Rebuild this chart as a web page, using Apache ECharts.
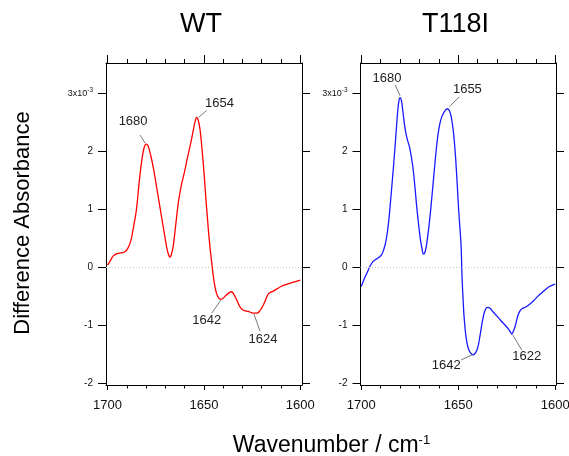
<!DOCTYPE html>
<html>
<head>
<meta charset="utf-8">
<script src="https://cdn.jsdelivr.net/npm/echarts@6/dist/echarts.min.js"></script>
<style>html,body{margin:0;padding:0;background:#fff;}#c{width:569px;height:456px;}</style>
</head>
<body>
<div id="c"></div>
<script>
// ---- data ----
const panelTitles = ['WT', 'T118I'];
const yAxisTitle = 'Difference Absorbance';
const xAxisTitle = 'Wavenumber / cm';
const xMajorTicks = [1600, 1650, 1700];
const xMinorTicks = [1610, 1620, 1630, 1640, 1660, 1670, 1680, 1690];
const yTicks = [-2, -1, 0, 1, 2, 3];

const wtWavenumber = [1700,1698.5,1697,1695,1693,1691,1689.5,1688,1686.5,1685,1683.5,1682,1681,1680,1679,1677.5,1676,1674.5,1673,1671.5,1670,1669,1668,1667.5,1667,1666,1665,1664,1663,1661.5,1660,1658.5,1657,1655.5,1654.5,1653.8,1653,1652,1651,1650,1649,1648,1647,1646,1645,1644,1643,1642,1641,1640,1638.5,1637,1635.7,1634.5,1633,1631.5,1630,1628.5,1627,1625.5,1624,1622.5,1621,1619.5,1618,1617,1616,1614,1612,1610,1608,1606,1604,1602,1600];
const wtValues = [0.04,0.12,0.20,0.24,0.25,0.27,0.33,0.45,0.70,1.00,1.50,1.90,2.07,2.13,2.10,1.92,1.68,1.38,1.08,0.78,0.48,0.30,0.19,0.18,0.21,0.35,0.62,0.92,1.18,1.45,1.66,1.90,2.12,2.37,2.53,2.59,2.55,2.38,2.05,1.66,1.20,0.78,0.40,0.10,-0.18,-0.38,-0.49,-0.54,-0.55,-0.53,-0.48,-0.44,-0.42,-0.46,-0.56,-0.67,-0.73,-0.75,-0.76,-0.78,-0.79,-0.79,-0.75,-0.67,-0.56,-0.48,-0.44,-0.41,-0.37,-0.33,-0.30,-0.28,-0.26,-0.24,-0.22];

const mutWavenumber = [1700,1698.5,1697,1695.5,1694,1692.5,1691,1689.5,1688.5,1687.5,1686.5,1685.5,1684.5,1683.5,1682.5,1681.5,1680.7,1680,1679.3,1678.5,1677.5,1676.5,1675,1673.5,1672.5,1671.5,1670.5,1669.5,1668.5,1668,1667.3,1666.5,1665.5,1664.5,1663.5,1662.5,1661.5,1660.5,1659.5,1658.5,1657,1655.6,1654.5,1653.5,1652.5,1651.5,1650.5,1649.8,1649,1648.5,1648,1647.5,1647,1646,1645,1644,1643,1642.3,1641.5,1640.5,1639.5,1638.5,1637.5,1636.5,1635.5,1634.7,1633.5,1632,1630,1628,1626,1624,1623,1622.4,1621.7,1620.7,1619.8,1619,1618,1617,1615,1613,1611,1609,1607,1605,1603,1601,1600];
const mutValues = [-0.33,-0.20,-0.09,0.02,0.10,0.14,0.17,0.22,0.30,0.42,0.62,0.92,1.30,1.70,2.12,2.58,2.85,2.93,2.88,2.68,2.42,2.24,2.06,1.76,1.45,1.08,0.76,0.48,0.29,0.23,0.25,0.36,0.60,0.90,1.25,1.62,1.98,2.28,2.48,2.60,2.70,2.74,2.70,2.58,2.34,1.96,1.42,1.00,0.62,0.35,-0.20,-0.55,-0.85,-1.20,-1.38,-1.46,-1.50,-1.51,-1.49,-1.44,-1.32,-1.12,-0.92,-0.77,-0.70,-0.69,-0.71,-0.77,-0.84,-0.92,-0.99,-1.07,-1.12,-1.15,-1.11,-1.02,-0.90,-0.81,-0.74,-0.71,-0.68,-0.63,-0.57,-0.50,-0.44,-0.38,-0.33,-0.30,-0.29];

const wtPeakWavenumber = [1680, 1653.8, 1641.3, 1624];
const wtPeakValues = [2.13, 2.59, -0.55, -0.79];
const wtPeakLabels = ['1680', '1654', '1642', '1624'];
const mutPeakWavenumber = [1680, 1655.6, 1642.3, 1622.4];
const mutPeakValues = [2.93, 2.74, -1.51, -1.15];
const mutPeakLabels = ['1680', '1655', '1642', '1622'];

// ---- layout / style (not data) ----
const FONT = 'Liberation Sans, Arial, Helvetica, sans-serif';
// annotation offsets in px: [lineStartDx, lineStartDy, lineEndDx, lineEndDy, textDx, textDy]
const wtAnnoLayout = [[-1,-1,-6,-9,-13,-23],[2,0,10,-7,23,-14],[0,1,-9,14,-14,21],[0,1,6,18,9,26]];
const mutAnnoLayout = [[0,-2,-5,-13,-13,-19],[2,-2,12,-12,20,-19],[-1,0,-12,5,-27,11],[1,1,10,16,15,22]];

const grids = [
  {left: 106, top: 63, width: 196, height: 322, outerBoundsMode: 'none', containLabel: false},
  {left: 360.5, top: 63, width: 195.5, height: 322, outerBoundsMode: 'none', containLabel: false}
];
const xRanges = [[1599.1, 1700.8], [1599.6, 1700.4]];
const yMin = -2.03, yMax = 3.53;

function pairs(xs, ys) { return xs.map((x, i) => [x, ys[i]]); }

const xAxes = [], yAxes = [];
grids.forEach((g, gi) => {
  const base = {
    type: 'value', gridIndex: gi, inverse: true,
    min: xRanges[gi][0], max: xRanges[gi][1],
    splitLine: {show: false}
  };
  xAxes.push(Object.assign({}, base, {
    position: 'bottom',
    axisLine: {show: true, onZero: false, lineStyle: {color: '#000', width: 1}},
    axisTick: {show: true, inside: false, length: 5, customValues: xMajorTicks, lineStyle: {color: '#000'}},
    axisLabel: {show: true, customValues: xMajorTicks, margin: 14, fontSize: 13, color: '#111', fontFamily: FONT,
      formatter: v => String(v)}
  }));
  xAxes.push(Object.assign({}, base, {
    position: 'bottom',
    axisLine: {show: false, onZero: false},
    axisTick: {show: true, length: 3.5, customValues: xMinorTicks, lineStyle: {color: '#000'}},
    axisLabel: {show: false}
  }));
  xAxes.push(Object.assign({}, base, {
    position: 'top',
    axisLine: {show: true, onZero: false, lineStyle: {color: '#000', width: 1}},
    axisTick: {show: true, length: 8, customValues: xMajorTicks, lineStyle: {color: '#000'}},
    axisLabel: {show: false}
  }));
  xAxes.push(Object.assign({}, base, {
    position: 'top',
    axisLine: {show: false, onZero: false},
    axisTick: {show: true, length: 4, customValues: xMinorTicks, lineStyle: {color: '#000'}},
    axisLabel: {show: false}
  }));
  yAxes.push({
    type: 'value', gridIndex: gi, position: 'left', min: yMin, max: yMax,
    splitLine: {show: false},
    axisLine: {show: true, onZero: false, lineStyle: {color: '#000', width: 1}},
    axisTick: {show: true, length: 8, customValues: yTicks, lineStyle: {color: '#000'}},
    axisLabel: {
      show: true, customValues: yTicks, margin: 13, fontSize: 10, color: '#111', fontFamily: FONT,
      formatter: v => (v === 3 ? '{b|3x10}{s|-3}' : String(v)),
      rich: {b: {fontSize: 9, fontFamily: FONT, color: '#111'}, s: {fontSize: 6.5, fontFamily: FONT, color: '#111', padding: [0, 0, 7, 0]}}
    }
  });
  yAxes.push({
    type: 'value', gridIndex: gi, position: 'right', min: yMin, max: yMax,
    splitLine: {show: false},
    axisLine: {show: true, onZero: false, lineStyle: {color: '#000', width: 1}},
    axisTick: {show: true, length: 8, customValues: yTicks, lineStyle: {color: '#000'}},
    axisLabel: {show: false}
  });
});

function lineSeries(gi, data, color) {
  return {
    type: 'line', xAxisIndex: gi * 4, yAxisIndex: gi * 2,
    data: data, showSymbol: false, smooth: 0.35,
    lineStyle: {color: color, width: 1.3}, itemStyle: {color: color},
    markLine: {
      silent: true, symbol: ['none', 'none'], label: {show: false},
      lineStyle: {color: '#c8c8c8', type: [1, 2], width: 1},
      data: [{yAxis: 0}]
    },
    z: 3
  };
}

function annoSeries(gi, xs, ys, labels, layout) {
  return {
    type: 'custom', xAxisIndex: gi * 4, yAxisIndex: gi * 2, z: 5,
    data: xs.map((x, i) => [x, ys[i], i]),
    renderItem: function (params, api) {
      const p = api.coord([api.value(0), api.value(1)]);
      const idx = api.value(2);
      const L = layout[idx];
      return {
        type: 'group',
        children: [
          {type: 'line', shape: {x1: p[0] + L[0], y1: p[1] + L[1], x2: p[0] + L[2], y2: p[1] + L[3]},
           style: {stroke: '#555', lineWidth: 0.8}},
          {type: 'text', x: p[0] + L[4], y: p[1] + L[5],
           style: {text: labels[idx], fill: '#222', font: '13px ' + FONT, textAlign: 'center', textVerticalAlign: 'middle'}}
        ]
      };
    }
  };
}

const chart = echarts.init(document.getElementById('c'), null, {renderer: 'canvas'});
chart.setOption({
  animation: false,
  backgroundColor: '#fff',
  grid: grids,
  xAxis: xAxes,
  yAxis: yAxes,
  series: [
    lineSeries(0, pairs(wtWavenumber, wtValues), '#ff0000'),
    lineSeries(1, pairs(mutWavenumber, mutValues), '#1a1aff'),
    annoSeries(0, wtPeakWavenumber, wtPeakValues, wtPeakLabels, wtAnnoLayout),
    annoSeries(1, mutPeakWavenumber, mutPeakValues, mutPeakLabels, mutAnnoLayout)
  ],
  graphic: [
    {type: 'text', x: 201, y: 25, style: {text: panelTitles[0], font: '27px ' + FONT, fill: '#000', textAlign: 'center', textVerticalAlign: 'middle'}},
    {type: 'text', x: 455.5, y: 25, style: {text: panelTitles[1], font: '27px ' + FONT, fill: '#000', textAlign: 'center', textVerticalAlign: 'middle'}},
    {type: 'text', x: 23, y: 223, rotation: Math.PI / 2,
     style: {text: yAxisTitle, font: '22px ' + FONT, fill: '#000', textAlign: 'center', textVerticalAlign: 'middle'}},
    {type: 'text', x: 331.5, y: 446,
     style: {text: '{m|' + xAxisTitle + '}{s|-1}', textAlign: 'center', textVerticalAlign: 'middle',
       rich: {m: {fontSize: 23, fontFamily: FONT, fill: '#000'}, s: {fontSize: 13, fontFamily: FONT, fill: '#000', padding: [0, 0, 12, 0]}}}}
  ]
});
</script>
</body>
</html>
